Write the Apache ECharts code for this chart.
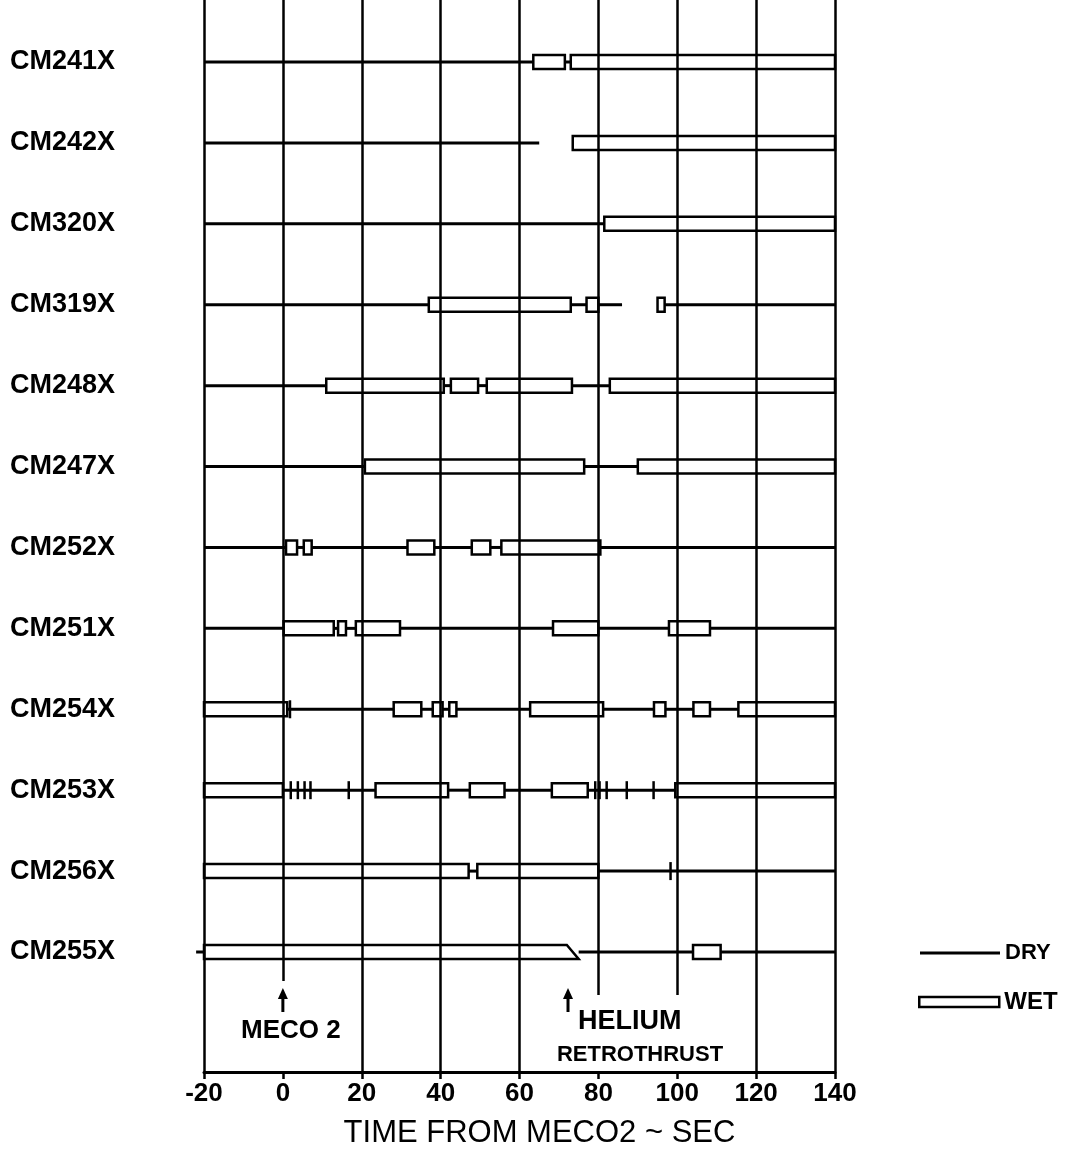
<!DOCTYPE html>
<html>
<head>
<meta charset="utf-8">
<script src="https://cdn.jsdelivr.net/npm/echarts@6/dist/echarts.min.js"></script>
<style>
html,body{margin:0;padding:0;background:#fff;}
#chart{width:1078px;height:1159px;}
</style>
</head>
<body>
<div id="chart"></div>
<script>
// ---- data ----
const categories = ['CM241X','CM242X','CM320X','CM319X','CM248X','CM247X','CM252X','CM251X','CM254X','CM253X','CM256X','CM255X'];
const xTicks = [-20, 0, 20, 40, 60, 80, 100, 120, 140];

// wet intervals per row: [start, end] or [start, endTop, endBottom] (slanted end)
const wetSegments = [
  [[63.5,71.5],[73,140]],
  [[73.5,140]],
  [[81.5,140]],
  [[37,73],[77,80],[95,96.8]],
  [[11,40.8],[42.6,49.5],[51.7,73.3],[82.9,140]],
  [[20.8,76.4],[90,140]],
  [[0.8,3.6],[5.3,7.3],[31.6,38.4],[47.9,52.6],[55.4,80.5]],
  [[0.2,12.9],[14,16],[18.5,29.7],[68.5,80],[97.9,108.3]],
  [[-20,1.1],[28.1,35.1],[38,40.5],[42.2,44],[62.7,81.2],[94.1,97],[104.1,108.3],[115.5,140]],
  [[-20,0],[23.5,41.9],[47.4,56.2],[68.2,77.3],[99.5,140]],
  [[-20,47.1],[49.3,80]],
  [[-20,72,75],[104,111]]
];
// dry intervals per row
const drySegments = [
  [[-20,63.5],[71.5,73]],
  [[-20,65]],
  [[-20,81.5]],
  [[-20,37],[73,77],[80,86],[96.8,140]],
  [[-20,11],[40.8,42.6],[49.5,51.7],[73.3,82.9]],
  [[-20,20.8],[76.4,90]],
  [[-20,0.8],[3.6,5.3],[7.3,31.6],[38.4,47.9],[52.6,55.4],[80.5,140]],
  [[-20,0.2],[12.9,14],[16,18.5],[29.7,68.5],[80,97.9],[108.3,140]],
  [[1.1,28.1],[35.1,38],[40.5,42.2],[44,62.7],[81.2,94.1],[97,104.1],[108.3,115.5]],
  [[0,23.5],[41.9,47.4],[56.2,68.2],[77.3,99.5]],
  [[47.1,49.3],[80,140]],
  [[-22,-20],[75,104],[111,140]]
];
// short vertical spikes on dry line: [row, x]
const spikes = [[8,1.8],[9,2],[9,3.8],[9,5.5],[9,7],[9,16.7],[9,79.2],[9,80.3],[9,82.1],[9,87.2],[9,94],[10,98.3]];
const mecoTime = 0;
const heliumTime = 72.3;

// ---- build series data ----
const wetData = [];
wetSegments.forEach((segs, r) => segs.forEach(s => {
  wetData.push([r, s[0], s[1], s.length > 2 ? s[2] : s[1]]);
}));
const dryData = [];
drySegments.forEach((segs, r) => segs.forEach(s => dryData.push([r, s[0], s[1]])));

const FONT = 'Liberation Sans';
const BOX_H = 14;

function renderWet(params, api) {
  const row = api.value(0);
  const p0 = api.coord([api.value(1), row]);
  const pT = api.coord([api.value(2), row]);
  const pB = api.coord([api.value(3), row]);
  const y0 = p0[1] - BOX_H / 2, y1 = p0[1] + BOX_H / 2;
  return {
    type: 'polygon',
    shape: { points: [[p0[0], y0], [pT[0], y0], [pB[0], y1], [p0[0], y1]] },
    style: { fill: 'rgba(255,255,255,0)', stroke: '#000', lineWidth: 2.5 }
  };
}
function renderDry(params, api) {
  const row = api.value(0);
  const a = api.coord([api.value(1), row]);
  const b = api.coord([api.value(2), row]);
  return {
    type: 'line',
    shape: { x1: a[0], y1: a[1], x2: b[0], y2: b[1] },
    style: { stroke: '#000', lineWidth: 3 }
  };
}
function renderSpike(params, api) {
  const p = api.coord([api.value(1), api.value(0)]);
  return {
    type: 'line',
    shape: { x1: p[0], y1: p[1] - 9, x2: p[0], y2: p[1] + 9 },
    style: { stroke: '#000', lineWidth: 2.5 }
  };
}

const T = 'rgba(0,0,0,0)';
const splitAll = xTicks.map(v => (v === 0 || v === 80 || v === 100) ? T : '#000');
const splitMid = xTicks.map(v => (v === 80 || v === 100) ? '#000' : T);
const splitZero = xTicks.map(v => (v === 0) ? '#000' : T);

function lineAxis(gi, colors) {
  return {
    gridIndex: gi, type: 'value', min: -20, max: 140, interval: 20,
    axisLine: { show: false }, axisTick: { show: false }, axisLabel: { show: false },
    splitLine: { show: true, lineStyle: { color: colors, width: 2.5 } }
  };
}

const chart = echarts.init(document.getElementById('chart'), null, { renderer: 'canvas' });
const option = {
  animation: false,
  backgroundColor: '#fff',
  grid: [
    { left: 204, right: 243, top: 0, bottom: 87 },
    { left: 204, right: 243, top: 62, bottom: 207 },
    { left: 204, right: 243, top: 0, bottom: 164 },
    { left: 204, right: 243, top: 0, bottom: 178 }
  ],
  xAxis: [
    {
      gridIndex: 0, type: 'value', min: -20, max: 140, interval: 20,
      axisLine: { show: true, lineStyle: { color: '#000', width: 3 } },
      axisTick: { show: true, length: 7, lineStyle: { color: '#000', width: 2.5 } },
      axisLabel: { color: '#000', fontSize: 26, fontWeight: 'bold', fontFamily: FONT, margin: 9 },
      splitLine: { show: true, lineStyle: { color: splitAll, width: 2.5 } },
      name: 'TIME FROM MECO2 ~ SEC', nameLocation: 'middle', nameGap: 46,
      nameTextStyle: { color: '#000', fontSize: 31, fontFamily: FONT, padding: [0, 0, 0, 40] }
    },
    { gridIndex: 1, type: 'value', min: -20, max: 140, interval: 20, show: false },
    lineAxis(2, splitMid),
    lineAxis(3, splitZero)
  ],
  yAxis: [
    { gridIndex: 0, type: 'value', show: false },
    {
      gridIndex: 1, type: 'category', data: categories, inverse: true, boundaryGap: false,
      axisLine: { show: false }, axisTick: { show: false }, splitLine: { show: false },
      axisLabel: { align: 'left', margin: 194, color: '#000', fontSize: 27, fontWeight: 'bold', fontFamily: FONT }
    },
    { gridIndex: 2, type: 'value', show: false },
    { gridIndex: 3, type: 'value', show: false }
  ],
  legend: [
    {
      data: ['DRY'], left: 915, top: 937, icon: 'rect', itemWidth: 80, itemHeight: 3,
      itemStyle: { color: '#000' },
      textStyle: { color: '#000', fontSize: 22, fontWeight: 'bold', fontFamily: FONT }
    },
    {
      data: ['WET'], left: 913, top: 985, icon: 'rect', itemWidth: 80, itemHeight: 10,
      itemStyle: { color: '#fff', borderColor: '#000', borderWidth: 2.5 },
      textStyle: { color: '#000', fontSize: 24, fontWeight: 'bold', fontFamily: FONT }
    }
  ],
  series: [
    {
      name: 'DRY', type: 'custom', xAxisIndex: 1, yAxisIndex: 1, clip: false,
      renderItem: renderDry, itemStyle: { color: '#000' },
      encode: { x: [1, 2], y: 0 }, data: dryData, z: 3
    },
    {
      name: 'WET', type: 'custom', xAxisIndex: 1, yAxisIndex: 1, clip: false,
      renderItem: renderWet, itemStyle: { color: '#fff', borderColor: '#000' },
      encode: { x: [1, 2, 3], y: 0 }, data: wetData, z: 4
    },
    {
      name: 'spikes', type: 'custom', xAxisIndex: 1, yAxisIndex: 1, clip: false,
      renderItem: renderSpike, encode: { x: 1, y: 0 }, data: spikes, z: 5
    }
  ]
};
chart.setOption(option);

// annotations placed at data times
const xm = chart.convertToPixel({ xAxisIndex: 0 }, mecoTime);
const xh = chart.convertToPixel({ xAxisIndex: 0 }, heliumTime);
function arrow(x) {
  return [
    { type: 'line', shape: { x1: x, y1: 996, x2: x, y2: 1012 }, style: { stroke: '#000', lineWidth: 3 } },
    { type: 'polygon', shape: { points: [[x, 988], [x - 5, 999], [x + 5, 999]] }, style: { fill: '#000' } }
  ];
}
chart.setOption({
  graphic: [
    ...arrow(xm),
    { type: 'text', x: xm + 8, y: 1031, style: { text: 'MECO 2', fill: '#000', font: 'bold 26px "Liberation Sans"', align: 'center', verticalAlign: 'middle' } },
    ...arrow(xh),
    { type: 'text', x: xh + 10, y: 1022, style: { text: 'HELIUM', fill: '#000', font: 'bold 27px "Liberation Sans"', align: 'left', verticalAlign: 'middle', backgroundColor: '#fff' } },
    { type: 'text', x: 640, y: 1055, style: { text: 'RETROTHRUST', fill: '#000', font: 'bold 22px "Liberation Sans"', align: 'center', verticalAlign: 'middle', backgroundColor: '#fff' } }
  ]
});
</script>
</body>
</html>
